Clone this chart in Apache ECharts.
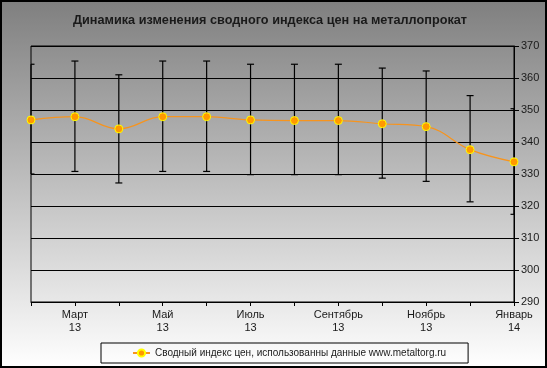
<!DOCTYPE html>
<html>
<head>
<meta charset="utf-8">
<script src="https://cdn.jsdelivr.net/npm/echarts@6/dist/echarts.min.js"></script>
<style>
html,body{margin:0;padding:0;background:#fff;}
#chart{width:547px;height:368px;}
</style>
</head>
<body>
<div id="chart"></div>
<script>
const titleText = 'Динамика изменения сводного индекса цен на металлопрокат';
const seriesName = 'Сводный индекс цен, использованны данные www.metaltorg.ru';
const months = ['Февраль','Март','Апрель','Май','Июнь','Июль','Август','Сентябрь','Октябрь','Ноябрь','Декабрь','Январь'];
const years = ['13','13','13','13','13','13','13','13','13','13','13','14'];
const indexValues = [346.9, 347.9, 344.1, 347.9, 347.9, 346.9, 346.7, 346.7, 345.7, 344.8, 337.6, 333.8];
const errLow  = [330.0, 330.8, 327.2, 330.8, 330.8, 329.8, 329.8, 329.8, 328.7, 327.7, 321.3, 317.4];
const errHigh = [364.3, 365.3, 361.0, 365.3, 365.3, 364.3, 364.3, 364.3, 363.1, 362.2, 354.5, 350.4];
const yTicks = [290, 300, 310, 320, 330, 340, 350, 360, 370];

const categories = months.map((m, i) => m + '\n' + years[i]);
const errData = indexValues.map((v, i) => [i, errLow[i], errHigh[i]]);

const font = '"Liberation Sans", Arial, sans-serif';
const chart = echarts.init(document.getElementById('chart'), null, {renderer: 'canvas'});
chart.setOption({
  animation: false,
  graphic: [{
    type: 'rect', z: -100, zlevel: 0, silent: true,
    shape: {x: 1, y: 1, width: 545, height: 366},
    style: {
      fill: new echarts.graphic.LinearGradient(0, 0, 0, 1, [
        {offset: 0, color: '#7f7f7f'},
        {offset: 1, color: '#ffffff'}
      ]),
      stroke: '#000', lineWidth: 2
    }
  }],
  title: {
    text: titleText, left: 73, top: 14, padding: 0,
    textStyle: {fontFamily: font, fontSize: 12.7, fontWeight: 'bold', color: '#1a1a1a'}
  },
  legend: {
    left: 101, top: 343,
    padding: [5, 22, 5, 31],
    borderColor: '#000', borderWidth: 1,
    itemWidth: 17, itemHeight: 9, itemGap: 10,
    textStyle: {fontFamily: font, fontSize: 10, color: '#1a1a1a'},
    data: [seriesName]
  },
  grid: {
    left: 31, right: 33, top: 46, bottom: 66,
    show: true, borderColor: '#000', borderWidth: 1, backgroundColor: 'transparent'
  },
  xAxis: {
    type: 'category', data: categories, boundaryGap: false,
    axisLine: {lineStyle: {color: '#000', width: 1}},
    axisTick: {show: true, interval: 0, length: 4, lineStyle: {color: '#000'}},
    axisLabel: {
      interval: (i) => i % 2 === 1,
      fontFamily: font, fontSize: 11, color: '#1a1a1a', lineHeight: 13, margin: 6
    },
    splitLine: {show: false}
  },
  yAxis: {
    type: 'value', position: 'right', min: yTicks[0], max: yTicks[yTicks.length - 1], interval: 10,
    axisLine: {show: true, lineStyle: {color: '#000', width: 1}},
    axisTick: {show: true, inside: false, length: 5, lineStyle: {color: '#000'}},
    axisLabel: {fontFamily: font, fontSize: 11, color: '#1a1a1a', margin: 7},
    splitLine: {show: true, lineStyle: {color: '#000', width: 1}}
  },
  series: [
    {
      type: 'custom', name: 'err', z: 3, silent: true,
      data: errData,
      encode: {x: 0, y: [1, 2]},
      renderItem: function (params, api) {
        const idx = api.value(0);
        const lo = api.coord([idx, api.value(1)]);
        const hi = api.coord([idx, api.value(2)]);
        const cs = params.coordSys;
        const x = lo[0];
        const half = 3.5;
        const l = Math.max(x - half, cs.x);
        const r = Math.min(x + half, cs.x + cs.width);
        const st = {stroke: '#000', lineWidth: 1.2};
        return {type: 'group', children: [
          {type: 'line', shape: {x1: x, y1: hi[1], x2: x, y2: lo[1]}, style: st},
          {type: 'line', shape: {x1: l, y1: hi[1], x2: r, y2: hi[1]}, style: st},
          {type: 'line', shape: {x1: l, y1: lo[1], x2: r, y2: lo[1]}, style: st}
        ]};
      }
    },
    {
      type: 'line', name: seriesName, z: 5,
      data: indexValues,
      smooth: 0.4,
      symbol: 'circle', symbolSize: 8,
      lineStyle: {color: '#f7941d', width: 1.2},
      itemStyle: {color: '#ff9900', borderColor: '#ffff00', borderWidth: 1}
    }
  ]
});
</script>
</body>
</html>
